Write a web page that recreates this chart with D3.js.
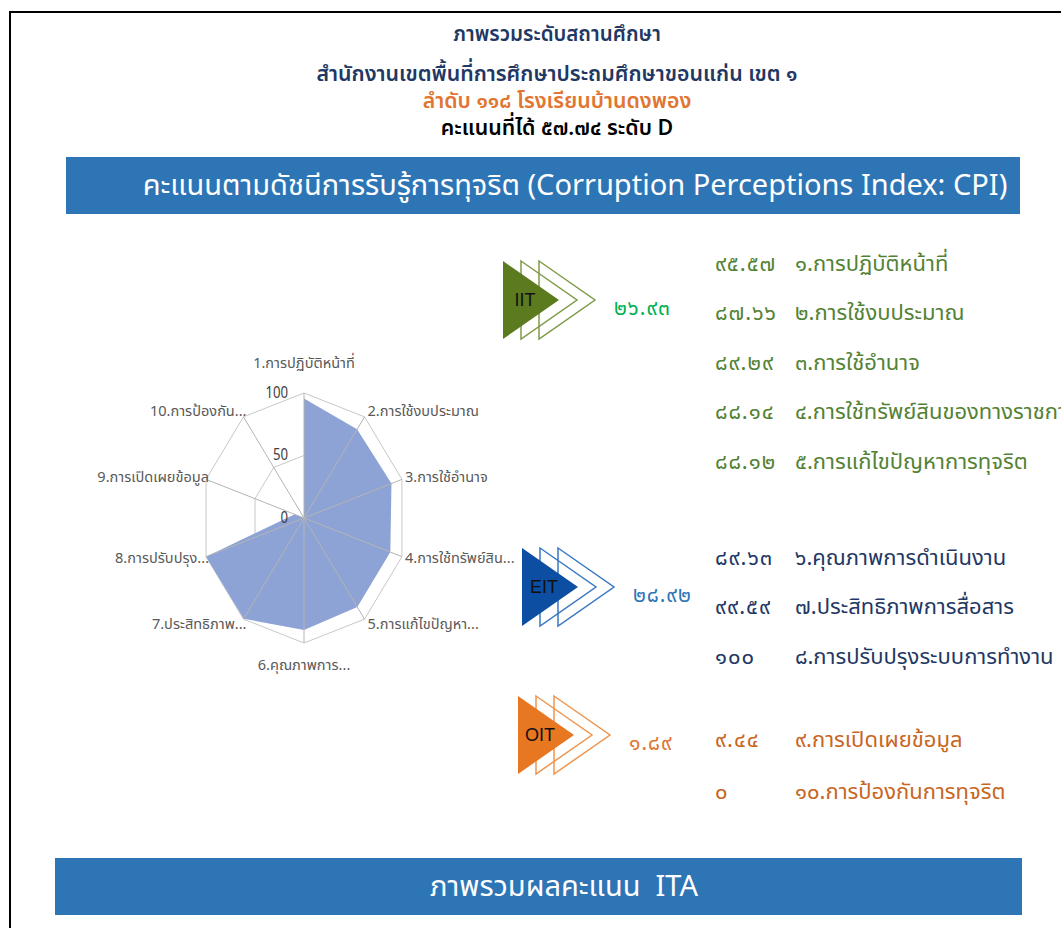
<!DOCTYPE html>
<html>
<head>
<meta charset="utf-8">
<script src="https://cdn.jsdelivr.net/npm/d3@7"></script>
<style>
  body { margin: 0; background: #fff; }
  svg { display: block; font-family: "Noto Sans Thai", "Noto Sans", "Open Sans", sans-serif; }
</style>
</head>
<body>
<div class="canvas"></div>
<script>
// indicator names (full and as the radar chart shortens them)
const indicators = [
  'การปฏิบัติหน้าที่', 'การใช้งบประมาณ', 'การใช้อำนาจ', 'การใช้ทรัพย์สินของทางราชการ',
  'การแก้ไขปัญหาการทุจริต', 'คุณภาพการดำเนินงาน', 'ประสิทธิภาพการสื่อสาร',
  'การปรับปรุงระบบการทำงาน', 'การเปิดเผยข้อมูล', 'การป้องกันการทุจริต'
];
const radarLabels = [
  '1.การปฏิบัติหน้าที่', '2.การใช้งบประมาณ', '3.การใช้อำนาจ', '4.การใช้ทรัพย์สิน...',
  '5.การแก้ไขปัญหา...', '6.คุณภาพการ...', '7.ประสิทธิภาพ...', '8.การปรับปรุง...',
  '9.การเปิดเผยข้อมูล', '10.การป้องกัน...'
];
const scores = [95.57, 87.66, 89.29, 88.14, 88.12, 89.63, 99.59, 100, 9.44, 0];
const radarTicks = [0, 50, 100];

const groupNames = ['IIT', 'EIT', 'OIT'];
const groupTotals = [26.93, 28.92, 1.89];
const groupSizes = [5, 3, 2];

const totalScore = 57.74;
const rank = 118;
const grade = 'D';

const thaiDigits = '๐๑๒๓๔๕๖๗๘๙';
const toThai = (v) => String(v).replace(/[0-9]/g, (c) => thaiDigits[+c]);

const dims = { width: 1061, height: 928 };
const svg = d3
  .select('.canvas')
  .append('svg')
  .attr('width', dims.width)
  .attr('height', dims.height);

// frame lines
svg.append('line').attr('x1', 9).attr('x2', dims.width).attr('y1', 12).attr('y2', 12)
  .attr('stroke', '#000').attr('stroke-width', 2);
svg.append('line').attr('x1', 10).attr('x2', 10).attr('y1', 11).attr('y2', dims.height)
  .attr('stroke', '#000').attr('stroke-width', 2);

// header
const navy = '#1f3864';
const header = [
  { text: 'ภาพรวมระดับสถานศึกษา', y: 34, color: navy, size: 20.5 },
  { text: 'สำนักงานเขตพื้นที่การศึกษาประถมศึกษาขอนแก่น เขต ๑', y: 74, color: navy, size: 21.3 },
  { text: `ลำดับ ${toThai(rank)} โรงเรียนบ้านดงพอง`, y: 101, color: '#e07632', size: 21.3 },
  { text: `คะแนนที่ได้ ${toThai(totalScore)} ระดับ ${grade}`, y: 128, color: '#000', size: 21.3 }
];
svg.selectAll('.head')
  .data(header)
  .enter()
  .append('text')
  .attr('class', 'head')
  .attr('x', 557)
  .attr('y', (d) => d.y)
  .attr('text-anchor', 'middle')
  .attr('dominant-baseline', 'central')
  .attr('fill', (d) => d.color)
  .attr('font-size', (d) => d.size)
  .attr('font-weight', 600)
  .text((d) => d.text);

// banners
const banners = [
  { text: 'คะแนนตามดัชนีการรับรู้การทุจริต (Corruption Perceptions Index: CPI)', x: 66, y: 157, w: 954, h: 57, cx: 575 },
  { text: 'ภาพรวมผลคะแนน\u00a0\u00a0ITA', x: 55, y: 858, w: 967, h: 57, cx: 564 }
];
const bannerG = svg.selectAll('.banner').data(banners).enter().append('g').attr('class', 'banner');
bannerG.append('rect')
  .attr('x', (d) => d.x).attr('y', (d) => d.y)
  .attr('width', (d) => d.w).attr('height', (d) => d.h)
  .attr('fill', '#2e75b6');
bannerG.append('text')
  .attr('x', (d) => d.cx)
  .attr('y', (d) => d.y + d.h / 2)
  .attr('text-anchor', 'middle')
  .attr('dominant-baseline', 'central')
  .attr('fill', '#fff')
  .attr('font-size', 29)
  .text((d) => d.text);

// radar chart
const cent = { x: 304, y: 518 };
const sx = 0.824; // the chart is squeezed sideways in the source
const tx = 0.97; // label squeeze
const r = d3.scaleLinear().domain([0, 100]).range([0, 125]);
const angle = d3.scaleLinear().domain([0, scores.length]).range([0, 2 * Math.PI]);
const pt = (i, v) => [
  cent.x + sx * r(v) * Math.sin(angle(i)),
  cent.y - r(v) * Math.cos(angle(i))
];
const radar = svg.append('g');
const closed = d3.line().curve(d3.curveLinearClosed);

radar.selectAll('.ring')
  .data(radarTicks.filter((t) => t > 0))
  .enter()
  .append('path')
  .attr('class', 'ring')
  .attr('d', (t) => closed(scores.map((s, i) => pt(i, t))))
  .attr('fill', 'none')
  .attr('stroke', '#c8c8c8')
  .attr('stroke-width', 1);

radar.append('path')
  .attr('d', closed(scores.map((s, i) => pt(i, s))))
  .attr('fill', '#8ea3d5');

radar.selectAll('.spoke')
  .data(scores)
  .enter()
  .append('line')
  .attr('class', 'spoke')
  .attr('x1', cent.x).attr('y1', cent.y)
  .attr('x2', (d, i) => pt(i, 100)[0])
  .attr('y2', (d, i) => pt(i, 100)[1])
  .attr('stroke', '#b4b4b4')
  .attr('stroke-width', 1);

radar.selectAll('.tick')
  .data(radarTicks)
  .enter()
  .append('text')
  .attr('class', 'tick')
  .attr('transform', (t) => `translate(${cent.x - 16}, ${cent.y - r(t)}) scale(${sx}, 1)`)
  .attr('text-anchor', 'end')
  .attr('dominant-baseline', 'central')
  .attr('fill', '#404040')
  .attr('font-size', 16)
  .text((t) => t);

radar.selectAll('.axis-label')
  .data(radarLabels)
  .enter()
  .append('text')
  .attr('class', 'axis-label')
  .attr('transform', (d, i) => {
    const [vx, vy] = pt(i, 100);
    const s = Math.sin(angle(i));
    const c = Math.cos(angle(i));
    let x = vx + 3;
    let y = vy - 7 * c;
    if (Math.abs(s) < 0.01) {
      x = vx;
      y = c > 0 ? vy - 30 : vy + 22;
    }
    return `translate(${x}, ${y}) scale(${tx}, 1)`;
  })
  .attr('text-anchor', (d, i) => {
    const s = Math.sin(angle(i));
    return Math.abs(s) < 0.01 ? 'middle' : s > 0 ? 'start' : 'end';
  })
  .attr('dominant-baseline', 'central')
  .attr('fill', '#595959')
  .attr('font-size', 15)
  .text((d) => d);

// IIT / EIT / OIT blocks
const groups = [
  { iconX: 503, iconY: 300, rowY: 264, rowStep: 49.5, fill: '#5b7b1e', line: '#7f9a48', total: '#00b050', text: '#548235' },
  { iconX: 522, iconY: 587, rowY: 558, rowStep: 49.5, fill: '#0b4ea2', line: '#3a78c2', total: '#2e75b6', text: navy },
  { iconX: 518, iconY: 735, rowY: 740, rowStep: 52, fill: '#e87722', line: '#ee9550', total: '#e07632', text: '#c8661f' }
];
const tri = { w: 56, h: 39, gap: 18 };
const triPath = (x, y) => closed([[x, y - tri.h], [x + tri.w, y], [x, y + tri.h]]);

let start = 0;
groups.forEach((gr, gi) => {
  const g = svg.append('g');
  [2, 1].forEach((k) => {
    g.append('path')
      .attr('d', triPath(gr.iconX + k * tri.gap, gr.iconY))
      .attr('fill', 'none')
      .attr('stroke', gr.line)
      .attr('stroke-width', 1.5);
  });
  g.append('path').attr('d', triPath(gr.iconX, gr.iconY)).attr('fill', gr.fill);
  g.append('text')
    .attr('x', gr.iconX + 22).attr('y', gr.iconY)
    .attr('text-anchor', 'middle').attr('dominant-baseline', 'central')
    .attr('font-family', 'Arial, "Liberation Sans", sans-serif')
    .attr('font-size', 18).attr('fill', '#111')
    .text(groupNames[gi]);
  g.append('text')
    .attr('x', gr.iconX + tri.w + 2 * tri.gap + 19).attr('y', gr.iconY + 8)
    .attr('dominant-baseline', 'central')
    .attr('font-size', 21).attr('letter-spacing', 1).attr('fill', gr.total)
    .text(toThai(groupTotals[gi]));

  const idx = d3.range(start, start + groupSizes[gi]);
  start += groupSizes[gi];
  const rows = g.selectAll('.row').data(idx).enter().append('g')
    .attr('class', 'row')
    .attr('transform', (d, j) => `translate(0, ${gr.rowY + j * gr.rowStep})`);
  rows.append('text')
    .attr('x', 715).attr('dominant-baseline', 'central')
    .attr('font-size', 22).attr('letter-spacing', 1).attr('fill', gr.text)
    .text((d) => toThai(scores[d]));
  rows.append('text')
    .attr('x', 795).attr('dominant-baseline', 'central')
    .attr('font-size', 22).attr('fill', gr.text)
    .text((d) => `${toThai(d + 1)}.${indicators[d]}`);
});
</script>
</body>
</html>
